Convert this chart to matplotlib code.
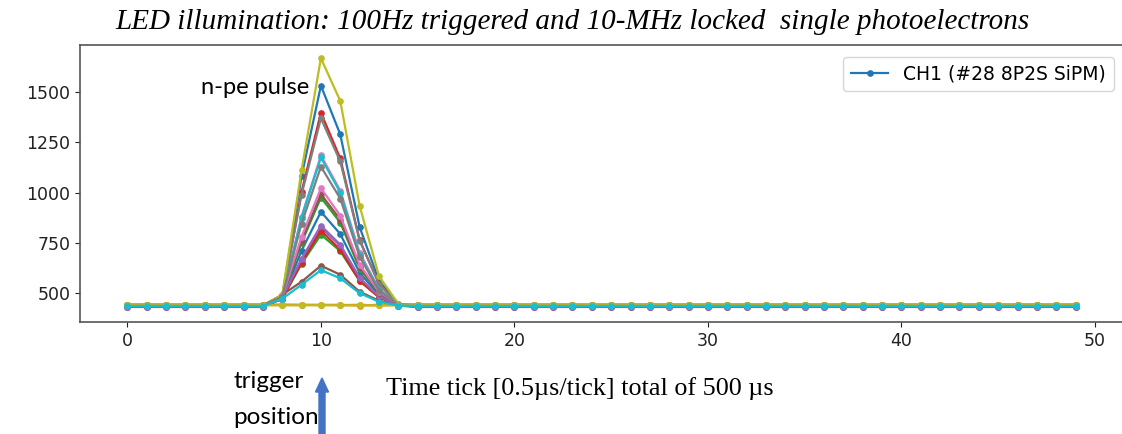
import matplotlib
matplotlib.use("Agg")
import matplotlib.pyplot as plt
from matplotlib.patches import FancyArrow

plt.rcParams['font.family'] = ['DejaVu Sans']

# ---------------- data ----------------
time = list(range(50))
pulse_start = 8  # first tick of the pulse window (ticks 8..14)

# per-trace baseline (ADC) and pulse samples at ticks 8..14
baselines = [436, 440, 435, 440, 431, 436, 435, 437, 437, 433,
             436, 439, 435, 429, 431, 436, 435, 437, 437, 433]
pulses = [
    [480, 1082, 1533, 1290, 828, 560, 445],   # blue
    [440, 440, 438, 440, 436, 440, 440],      # orange (no pulse)
    [470, 645, 790, 708, 559, 478, 440],      # green
    [475, 1004, 1398, 1170, 763, 545, 440],   # red
    [470, 665, 824, 735, 570, 480, 438],      # purple
    [490, 555, 635, 590, 505, 460, 436],      # brown
    [480, 880, 1185, 1010, 700, 520, 440],    # pink
    [485, 990, 1370, 1155, 760, 545, 440],    # gray
    [490, 1112, 1670, 1457, 934, 583, 445],   # olive
    [475, 875, 1175, 1000, 690, 515, 440],    # cyan
    [470, 710, 904, 793, 600, 490, 438],      # blue
    [440, 439, 440, 438, 440, 437, 439],      # orange (no pulse)
    [475, 750, 975, 850, 620, 500, 438],      # green
    [470, 650, 810, 715, 560, 478, 436],      # red
    [475, 670, 835, 740, 575, 482, 436],      # purple
    [480, 760, 992, 865, 630, 500, 440],      # brown
    [480, 780, 1022, 885, 640, 505, 440],     # pink
    [480, 845, 1129, 970, 680, 510, 440],     # gray
    [437, 437, 438, 437, 437, 437, 437],      # olive (no pulse)
    [470, 540, 613, 572, 498, 455, 436],      # cyan
]
legend_label = "CH1 (#28 8P2S SiPM)"
yticks = [500, 750, 1000, 1250, 1500]
xticks = [0, 10, 20, 30, 40, 50]

# ---------------- figure ----------------
W, H = 1122, 434
fig = plt.figure(figsize=(W / 100, H / 100), dpi=100)
ax = fig.add_axes([80 / W, (H - 322) / H, (1123 - 80) / W, (322 - 45) / H])

for i, (base, pulse) in enumerate(zip(baselines, pulses)):
    series = [base] * len(time)
    for k, v in enumerate(pulse):
        series[pulse_start + k] = v
    ax.plot(time, series, marker='o', markersize=3.8, linewidth=1.6,
            label=legend_label if i == 0 else None)

ax.set_xlim(-2.45, 51.45)
ax.set_ylim(354, 1736)
ax.set_xticks(xticks)
ax.set_yticks(yticks)
ax.tick_params(labelsize=12.5, colors='#222222')
for s in ax.spines.values():
    s.set_color('#555555')
    s.set_linewidth(1.2)

ax.legend(loc='upper right', fontsize=13.5, frameon=True,
          bbox_to_anchor=(1.0, 0.99))

# title
fig.text(572 / W, 1 - 22 / H,
         "LED illumination: 100Hz triggered and 10-MHz locked  single photoelectrons",
         ha='center', va='center', fontsize=21, style='italic',
         family='Liberation Serif')

# annotations
fig.text(255 / W, 1 - 88 / H, "n-pe pulse", ha='center', va='center',
         fontsize=17, family='Lato')
fig.text(233 / W, 1 - 382 / H, "trigger", ha='left', va='center',
         fontsize=17.5, family='Lato')
fig.text(233 / W, 1 - 418 / H, "position", ha='left', va='center',
         fontsize=17.5, family='Lato')
fig.text(386 / W, 1 - 389 / H, "Time tick [0.5\u00b5s/tick] total of 500 \u00b5s",
         ha='left', va='center', fontsize=18.8, family='Liberation Serif')

arrow = FancyArrow(322 / W, 0.0, 0, (434 - 378) / H, width=6 / W,
                   head_width=13 / W, head_length=14 / H,
                   length_includes_head=True, color='#4472C4',
                   transform=fig.transFigure)
fig.patches.append(arrow)

fig.savefig("out.png", dpi=100)
